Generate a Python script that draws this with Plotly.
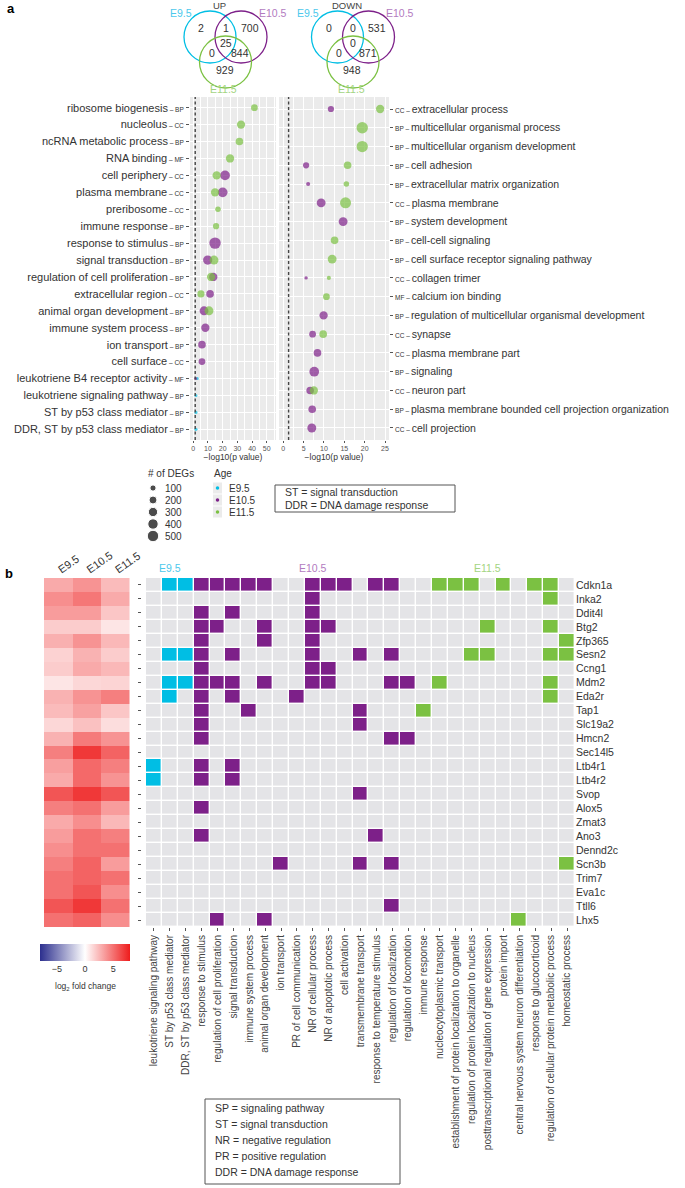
import plotly.graph_objects as go
import numpy as np

W, H = 685, 1188
def X(px): return px / W
def Y(py): return 1 - py / H

CYAN = "#00bee4"; PURPLE = "#7d2089"; GREEN = "#7bc142"
CYAN_T = "#4cc8ec"; PURPLE_T = "#b37bbf"; GREEN_T = "#a3d47f"
GREY_BG = "#ebebeb"; CELL = "#e4e4e7"
FONT = "Liberation Sans, Arial, sans-serif"
TXT = "#333333"

# ---------------- Venn counts ----------------
venn_up = {"E9.5": 2, "E9.5&E10.5": 1, "E10.5": 700, "all": 25, "E9.5&E11.5": 0, "E10.5&E11.5": 844, "E11.5": 929}
venn_down = {"E9.5": 0, "E9.5&E10.5": 0, "E10.5": 531, "all": 0, "E9.5&E11.5": 0, "E10.5&E11.5": 871, "E11.5": 948}

# ---------------- Dot plot (UP, left) ----------------
left_terms = ["ribosome biogenesis", "nucleolus", "ncRNA metabolic process", "RNA binding",
              "cell periphery", "plasma membrane", "preribosome", "immune response",
              "response to stimulus", "signal transduction", "regulation of cell proliferation",
              "extracellular region", "animal organ development", "immune system process",
              "ion transport", "cell surface", "leukotriene B4 receptor activity",
              "leukotriene signaling pathway", "ST by p53 class mediator", "DDR, ST by p53 class mediator"]
left_types = ["BP", "CC", "BP", "MF", "CC", "CC", "CC", "BP", "BP", "BP", "BP", "CC", "BP", "BP",
              "BP", "CC", "MF", "BP", "BP", "BP"]
left_pt_term = [0, 1, 2, 3, 4, 4, 5, 5, 6, 7, 8, 9, 9, 10, 10, 11, 11, 12, 12, 13, 14, 15, 16, 16, 17, 18, 19]
left_pt_age = ["E11.5", "E11.5", "E11.5", "E11.5", "E10.5", "E11.5", "E10.5", "E11.5", "E11.5", "E11.5",
               "E10.5", "E10.5", "E11.5", "E10.5", "E11.5", "E10.5", "E11.5", "E10.5", "E11.5", "E10.5",
               "E10.5", "E10.5", "E10.5", "E9.5", "E9.5", "E9.5", "E9.5"]
left_pt_logp = [41.6, 32.5, 31.4, 25.0, 21.6, 15.9, 20.0, 14.8, 16.8, 15.5,
                14.8, 9.8, 14.1, 13.6, 12.1, 11.4, 5.2, 7.3, 10.7, 8.2,
                5.9, 5.9, 1.6, 2.7, 1.8, 1.8, 1.8]
left_pt_degs = [130, 225, 180, 225, 340, 225, 340, 225, 72, 100,
                500, 300, 270, 225, 225, 180, 150, 270, 270, 225,
                180, 130, 6, 6, 6, 8, 8]

# ---------------- Dot plot (DOWN, right) ----------------
right_terms = ["extracellular process", "multicellular organismal process", "multicellular organism development",
               "cell adhesion", "extracellular matrix organization", "plasma membrane", "system development",
               "cell-cell signaling", "cell surface receptor signaling pathway", "collagen trimer",
               "calcium ion binding", "regulation of multicellular organismal development", "synapse",
               "plasma membrane part", "signaling", "neuron part",
               "plasma membrane bounded cell projection organization", "cell projection"]
right_types = ["CC", "BP", "BP", "BP", "BP", "CC", "BP", "BP", "BP", "CC", "MF", "BP", "CC", "CC",
               "BP", "CC", "BP", "CC"]
right_pt_term = [0, 0, 1, 2, 3, 3, 4, 4, 5, 5, 6, 7, 8, 9, 9, 10, 11, 12, 12, 13, 14, 15, 15, 16, 17]
right_pt_age = ["E10.5", "E11.5", "E11.5", "E11.5", "E10.5", "E11.5", "E10.5", "E11.5", "E10.5", "E11.5",
                "E10.5", "E11.5", "E11.5", "E10.5", "E11.5", "E11.5", "E10.5", "E10.5", "E11.5", "E10.5",
                "E10.5", "E10.5", "E11.5", "E10.5", "E10.5"]
right_pt_logp = [11.7, 23.8, 19.4, 19.4, 5.6, 15.8, 6.1, 15.5, 9.3, 15.3,
                 14.7, 12.6, 12.0, 5.6, 11.2, 10.6, 9.9, 7.2, 9.8, 8.4,
                 7.6, 6.6, 7.5, 7.1, 7.0]
right_pt_degs = [100, 225, 500, 490, 100, 180, 25, 72, 270, 460,
                 270, 180, 270, 12, 25, 130, 225, 130, 180, 180,
                 340, 180, 225, 180, 270]

size_legend = [100, 200, 300, 400, 500]
ages = ["E9.5", "E10.5", "E11.5"]
age_col = {"E9.5": CYAN, "E10.5": PURPLE, "E11.5": GREEN}
age_col_t = {"E9.5": CYAN_T, "E10.5": PURPLE_T, "E11.5": GREEN_T}

def diam(n):
    return 2.0 + 0.42 * np.sqrt(np.asarray(n, dtype=float))

# ---------------- Panel b ----------------
genes = ["Cdkn1a", "Inka2", "Ddit4l", "Btg2", "Zfp365", "Sesn2", "Ccng1", "Mdm2", "Eda2r", "Tap1",
         "Slc19a2", "Hmcn2", "Sec14l5", "Ltb4r1", "Ltb4r2", "Svop", "Alox5", "Zmat3", "Ano3",
         "Dennd2c", "Scn3b", "Trim7", "Eva1c", "Ttll6", "Lhx5"]
lfc_e95 = [3.0, 4.0, 3.5, 1.8, 2.8, 1.6, 1.8, 0.9, 2.7, 2.4, 1.4, 2.7, 4.5, 3.4, 3.0, 6.0, 4.5, 3.0, 3.5,
           4.0, 4.5, 5.0, 5.0, 6.0, 5.0]
lfc_e105 = [3.8, 4.8, 3.5, 1.8, 3.8, 2.7, 3.0, 1.4, 3.8, 3.3, 2.2, 4.7, 7.0, 5.3, 5.3, 7.0, 5.0, 4.0, 5.0,
            5.0, 5.5, 5.5, 6.0, 7.0, 5.5]
lfc_e115 = [2.4, 3.0, 2.0, 0.9, 2.5, 1.8, 2.5, 1.5, 4.5, 2.0, 1.2, 3.8, 5.5, 4.5, 3.8, 6.0, 3.5, 2.5, 4.5,
            5.0, 3.5, 5.0, 4.0, 5.0, 4.0]

go_terms = ["leukotriene signaling pathway", "ST by p53 class mediator", "DDR, ST by p53 class mediator",
            "response to stimulus", "regulation of cell proliferation", "signal transduction",
            "immune system process", "animal organ development", "ion transport",
            "PR of cell communication", "NR of cellular process", "NR of apoptotic process",
            "cell activation", "transmembrane transport", "response to temperature stimulus",
            "regulation of localization", "regulation of locomotion", "immune response",
            "nucleocytoplasmic transport", "establishment of protein localization to organelle",
            "regulation of protein localization to nucleus",
            "posttranscriptional regulation of gene expression", "protein import",
            "central nervous system neuron differentiation", "response to glucocorticoid",
            "regulation of cellular protein metabolic process", "homeostatic process"]
# term columns (1-based) annotated per gene for each age
hits_e95 = [[2, 3], [], [], [], [], [2, 3], [], [2, 3], [2], [], [], [], [], [1], [1], [], [], [], [],
            [], [], [], [], [], []]
hits_e105 = [[4, 5, 6, 7, 8, 11, 12, 13, 15, 16], [11], [4, 6, 11], [4, 5, 8, 11, 12], [4, 8, 11],
             [4, 6, 11, 14, 16], [4, 11, 12], [4, 5, 6, 8, 11, 12, 16, 17], [4, 6, 10], [4, 7, 14],
             [4, 14], [4, 16, 17], [], [4, 6], [4, 6], [14], [4], [], [4, 15], [], [9, 14, 16], [], [],
             [16], [5, 8]]
hits_e115 = [[19, 20, 21, 23, 25, 26], [26], [], [22, 26], [27], [21, 22, 26, 27], [], [19, 26], [26],
             [18], [], [], [], [], [], [], [], [], [], [], [27], [], [], [], [24]]
group_labels = ["E9.5", "E10.5", "E11.5"]
group_centers = [1, 10, 21]
abbrev_a = ["ST = signal transduction", "DDR = DNA damage response"]
abbrev_b = ["SP = signaling pathway", "ST = signal transduction", "NR = negative regulation",
            "PR = positive regulation", "DDR = DNA damage response"]

fig = go.Figure()

# ---- dot plots ----
def add_dots(terms_idx, agesl, vals, degs, xa, ya):
    for a in ages:
        idx = [i for i, g in enumerate(agesl) if g == a]
        if not idx:
            continue
        fig.add_trace(go.Scatter(
            x=[vals[i] for i in idx], y=[terms_idx[i] for i in idx], mode="markers",
            marker=dict(color=age_col[a], size=diam([degs[i] for i in idx]), line=dict(width=0)),
            xaxis=xa, yaxis=ya, showlegend=False, hoverinfo="skip"))

add_dots(left_pt_term, left_pt_age, left_pt_logp, left_pt_degs, "x", "y")
add_dots(right_pt_term, right_pt_age, right_pt_logp, right_pt_degs, "x2", "y2")

# ---- heatmap of log2FC ----
z_lfc = np.array([lfc_e95, lfc_e105, lfc_e115]).T
fig.add_trace(go.Heatmap(
    z=z_lfc, x=ages, y=list(range(len(genes))), xaxis="x3", yaxis="y3",
    zmin=-8, zmax=8,
    colorscale=[[0, "#2c2f8e"], [0.5, "#ffffff"], [1, "#ee1c1c"]],
    hoverinfo="skip",
    colorbar=dict(orientation="h", x=X(85), xanchor="center", y=Y(944), yanchor="top",
                  lenmode="pixels", len=90, thickness=17, outlinewidth=0,
                  tickvals=[-5, 0, 5], ticks="", tickfont=dict(size=9, color=TXT, family=FONT),
                  ypad=0, xpad=0)))

# ---- GO term matrix ----
mat = np.zeros((len(genes), len(go_terms)))
for gi in range(len(genes)):
    for c in hits_e95[gi]:
        mat[gi, c - 1] = 1
    for c in hits_e105[gi]:
        mat[gi, c - 1] = 2
    for c in hits_e115[gi]:
        mat[gi, c - 1] = 3
fig.add_trace(go.Heatmap(
    z=mat, x=list(range(len(go_terms))), y=list(range(len(genes))), xaxis="x4", yaxis="y4",
    zmin=0, zmax=3, showscale=False, xgap=1.4, ygap=1.4, hoverinfo="skip",
    colorscale=[[0, CELL], [0.1667, CELL], [0.1667, CYAN], [0.5, CYAN], [0.5, PURPLE],
                [0.8333, PURPLE], [0.8333, GREEN], [1, GREEN]]))
fig.add_trace(go.Scatter(x=[0], y=[0], xaxis="x4", yaxis="y5", mode="markers",
                         marker=dict(opacity=0), showlegend=False, hoverinfo="skip"))

# ---- legends (pixel axis) ----
leg_y = [488 + 12 * i for i in range(len(size_legend))]
fig.add_trace(go.Scatter(x=[153] * len(size_legend), y=leg_y, mode="markers",
                         marker=dict(color="black", size=diam(size_legend)),
                         xaxis="x6", yaxis="y6", showlegend=False, hoverinfo="skip"))
for yy, n in zip(leg_y, size_legend):
    fig.add_annotation(x=163, y=yy, xref="x6", yref="y6", text=str(n), showarrow=False,
                       xanchor="left", font=dict(size=10, color=TXT, family=FONT))
age_y = [488 + 12 * i for i in range(3)]
for yy, a in zip(age_y, ages):
    fig.add_shape(type="rect", x0=213, x1=222, y0=yy - 5.5, y1=yy + 5.5, xref="x6", yref="y6",
                  fillcolor=GREY_BG, line=dict(width=0), layer="below")
fig.add_trace(go.Scatter(x=[217.5] * 3, y=age_y, mode="markers",
                         marker=dict(color=[age_col[a] for a in ages], size=3.5),
                         xaxis="x6", yaxis="y6", showlegend=False, hoverinfo="skip"))
for yy, a in zip(age_y, ages):
    fig.add_annotation(x=227, y=yy, xref="x6", yref="y6", text=a, showarrow=False,
                       xanchor="left", font=dict(size=10, color=TXT, family=FONT))
fig.add_annotation(x=146, y=473, xref="x6", yref="y6", text="# of DEGs", showarrow=False,
                   xanchor="left", font=dict(size=10, color=TXT, family=FONT))
fig.add_annotation(x=212, y=473, xref="x6", yref="y6", text="Age", showarrow=False,
                   xanchor="left", font=dict(size=10, color=TXT, family=FONT))

# abbreviation boxes
fig.add_shape(type="rect", x0=275, x1=455, y0=485, y1=512, xref="x6", yref="y6",
              line=dict(color="#555", width=1), fillcolor="rgba(0,0,0,0)")
for i, t in enumerate(abbrev_a):
    fig.add_annotation(x=283, y=492 + 13 * i, xref="x6", yref="y6", text=t, showarrow=False,
                       xanchor="left", font=dict(size=10.5, color=TXT, family=FONT))
fig.add_shape(type="rect", x0=205, x1=400, y0=1099, y1=1184, xref="x6", yref="y6",
              line=dict(color="#555", width=1), fillcolor="rgba(0,0,0,0)")
for i, t in enumerate(abbrev_b):
    fig.add_annotation(x=213, y=1108 + 16 * i, xref="x6", yref="y6", text=t, showarrow=False,
                       xanchor="left", font=dict(size=10.5, color=TXT, family=FONT))

# ---- Venn diagrams ----
def venn(cx, title, counts):
    R = 26
    centers = {"E9.5": (cx - 15.5, 37), "E10.5": (cx + 15.5, 37), "E11.5": (cx, 62)}
    for a, (x0, y0) in centers.items():
        fig.add_shape(type="circle", x0=x0 - R, x1=x0 + R, y0=y0 - R, y1=y0 + R, xref="x6", yref="y6",
                      line=dict(color=age_col[a], width=1.3))
    pos = {"E9.5": (cx - 24.5, 28.3), "E9.5&E10.5": (cx, 28.3), "E10.5": (cx + 24, 28.3),
           "all": (cx, 43.3), "E9.5&E11.5": (cx - 14, 53.3), "E10.5&E11.5": (cx + 14.5, 53.3),
           "E11.5": (cx - 1, 70)}
    for k, (x0, y0) in pos.items():
        fig.add_annotation(x=x0, y=y0, xref="x6", yref="y6", text=str(counts[k]), showarrow=False,
                           font=dict(size=10.5, color=TXT, family=FONT))
    fig.add_annotation(x=cx - 6, y=5, xref="x6", yref="y6", text=title, showarrow=False,
                       font=dict(size=9.5, color="#444", family=FONT))
    fig.add_annotation(x=cx - 45, y=12.5, xref="x6", yref="y6", text="E9.5", showarrow=False,
                       font=dict(size=10.5, color=CYAN_T, family=FONT))
    fig.add_annotation(x=cx + 47, y=12.5, xref="x6", yref="y6", text="E10.5", showarrow=False,
                       font=dict(size=10.5, color=PURPLE_T, family=FONT))
    fig.add_annotation(x=cx - 2, y=89, xref="x6", yref="y6", text="E11.5", showarrow=False,
                       font=dict(size=10.5, color=GREEN_T, family=FONT))

venn(225.5, "UP", venn_up)
venn(353, "DOWN", venn_down)

# panel letters
fig.add_annotation(x=5, y=8, xref="x6", yref="y6", text="<b>a</b>", showarrow=False, xanchor="left",
                   font=dict(size=13, color="black", family=FONT))
fig.add_annotation(x=3, y=573, xref="x6", yref="y6", text="<b>b</b>", showarrow=False, xanchor="left",
                   font=dict(size=13, color="black", family=FONT))
fig.add_annotation(x=85, y=986, xref="x6", yref="y6", text="log<sub>2</sub> fold change", showarrow=False,
                   font=dict(size=8.5, color=TXT, family=FONT))

# group labels over matrix
for lab, c in zip(group_labels, group_centers):
    fig.add_annotation(x=c, y=568, xref="x4", yref="y6", text=lab, showarrow=False,
                       font=dict(size=10.5, color=age_col_t[lab], family=FONT))

# dot panel backgrounds & dashed line
for xa, ya in [("x", "y"), ("x2", "y2")]:
    fig.add_shape(type="rect", xref=xa + " domain", yref=ya + " domain", x0=0, x1=1, y0=0, y1=1,
                  fillcolor=GREY_BG, line=dict(width=0), layer="below")
    fig.add_shape(type="line", xref=xa, yref=ya + " domain", x0=1.3, x1=1.3, y0=0, y1=1,
                  line=dict(color="#444", width=1.4, dash="3px,2.5px"), layer="above")

tick_font = dict(size=7, color="#555", family=FONT)
lab_font = dict(size=11, color=TXT, family=FONT)
left_ticktext = [f"{t}<span style='font-size:6.5px'> – {g}</span>" for t, g in zip(left_terms, left_types)]
right_ticktext = [f"<span style='font-size:6.5px'>{g} – </span>{t}" for t, g in zip(right_terms, right_types)]

nL, nR = len(left_terms), len(right_terms)
fig.update_layout(
    template="none",
    width=W, height=H, margin=dict(l=0, r=0, t=0, b=0, pad=0, autoexpand=False),
    paper_bgcolor="white", plot_bgcolor="rgba(0,0,0,0)", showlegend=False,
    font=dict(family=FONT, color=TXT),
    xaxis=dict(domain=[X(190), X(276)], range=[-2.25, 56.3], anchor="y", automargin=False,
               tickvals=[0, 10, 20, 30, 40, 50], tickfont=tick_font, ticks="outside", ticklen=2,
               tickcolor="#555", showgrid=True, gridcolor="white", gridwidth=1,
               minor=dict(dtick=5, tick0=5, showgrid=True, gridcolor="white", gridwidth=0.5),
               zeroline=False, showline=False,
               title=dict(text="−log10(p value)", font=dict(size=8.5, color=TXT), standoff=1)),
    yaxis=dict(domain=[Y(440), Y(97)], range=[nL - 1 + 0.63, -0.63], anchor="x", automargin=False,
               tickvals=list(range(nL)), ticktext=left_ticktext, tickfont=lab_font,
               ticks="outside", ticklen=3, tickcolor="#555",
               showgrid=True, gridcolor="white", gridwidth=1, zeroline=False, showline=False),
    xaxis2=dict(domain=[X(279), X(389)], range=[-1.06, 25.98], anchor="y2", automargin=False,
                tickvals=[0, 5, 10, 15, 20, 25], tickfont=tick_font, ticks="outside", ticklen=2,
                tickcolor="#555", showgrid=True, gridcolor="white", gridwidth=1,
                minor=dict(dtick=2.5, tick0=2.5, showgrid=True, gridcolor="white", gridwidth=0.5),
                zeroline=False, showline=False,
                title=dict(text="−log10(p value)", font=dict(size=8.5, color=TXT), standoff=1)),
    yaxis2=dict(domain=[Y(440), Y(97)], range=[nR - 1 + 0.64, -0.64], anchor="x2", side="right",
                automargin=False,
                tickvals=list(range(nR)), ticktext=right_ticktext, tickfont=dict(size=10.5, color=TXT, family=FONT),
                ticks="outside", ticklen=3, tickcolor="#555",
                showgrid=True, gridcolor="white", gridwidth=1, zeroline=False, showline=False),
    xaxis3=dict(domain=[X(44), X(129.5)], anchor="y3", side="top", tickangle=-35, automargin=False,
                tickfont=dict(size=11, color=TXT, family=FONT), ticks="", showgrid=False,
                zeroline=False, showline=False),
    yaxis3=dict(domain=[Y(927), Y(578)], range=[len(genes) - 0.5, -0.5], anchor="x3", automargin=False,
                showticklabels=False, ticks="", showgrid=False, zeroline=False),
    xaxis4=dict(domain=[X(146), X(575)], range=[-0.5, len(go_terms) - 0.5], anchor="y4", automargin=False,
                tickvals=list(range(len(go_terms))), ticktext=go_terms, tickangle=-90,
                tickfont=dict(size=10, color="#444", family=FONT), ticks="outside", ticklen=3,
                tickcolor="#555", showgrid=False, zeroline=False, showline=False),
    yaxis4=dict(domain=[Y(927), Y(578)], range=[len(genes) - 0.5, -0.5], anchor="x4", side="right",
                automargin=False, tickvals=list(range(len(genes))), ticktext=genes,
                tickfont=dict(size=10.5, color=TXT, family=FONT), ticks="", ticklen=0,
                showgrid=False, zeroline=False, showline=False),
    yaxis5=dict(overlaying="y4", anchor="free", position=X(141), side="left", automargin=False,
                range=[len(genes) - 0.5, -0.5], tickvals=list(range(len(genes))),
                showticklabels=False, ticks="outside", ticklen=3, tickcolor="#555",
                showgrid=False, zeroline=False, showline=False),
    xaxis6=dict(domain=[0, 1], range=[0, W], visible=False, anchor="y6", automargin=False),
    yaxis6=dict(domain=[0, 1], range=[H, 0], visible=False, anchor="x6", automargin=False),
)

fig.write_html("out.html", config={"displayModeBar": False},
               post_script="document.body.style.margin='0px';")
